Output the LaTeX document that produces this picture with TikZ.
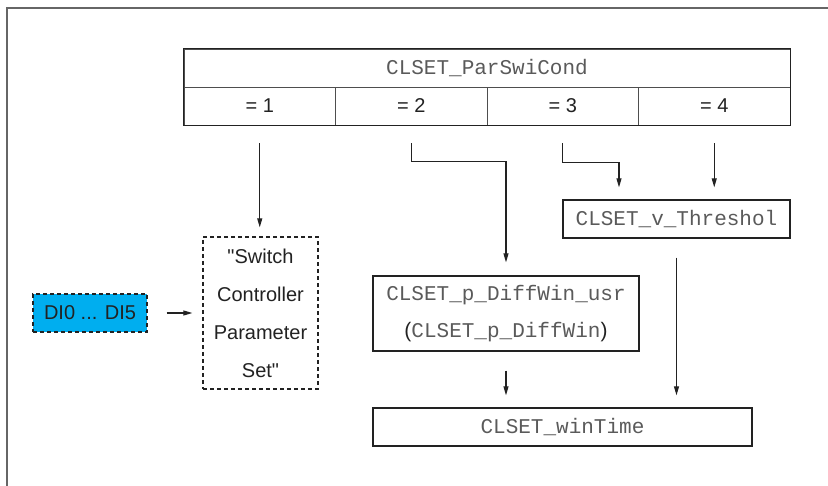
\documentclass[tikz,border=0pt]{standalone}
\usepackage{fontspec}
\setmainfont{Liberation Sans}
\newfontfamily\monof{Liberation Mono}
\usetikzlibrary{arrows.meta}
\definecolor{diblue}{RGB}{0,174,239}
\definecolor{ink}{HTML}{222222}
\definecolor{monogray}{HTML}{5a5a5a}
\begin{document}
\begin{tikzpicture}[x=1pt,y=-1pt,
  sansf/.style={font=\fontsize{20}{38}\selectfont, text=ink},
  monot/.style={font=\fontsize{21}{37}\monof, text=monogray},
  cell/.style={draw=ink!80, line width=0.8pt, inner sep=0pt, minimum height=38pt},
  pbox/.style={draw=ink, line width=1.3pt, inner sep=0pt, align=center},
  dbox/.style={draw=ink, line width=1.3pt, dash pattern=on 4pt off 3pt, inner sep=0pt, align=center},
  arr/.style={draw=ink, line width=1.1pt, -{Triangle[length=9pt,width=5pt]}}]
\useasboundingbox (0,0) rectangle (828,486);
% frame
\draw[draw=gray!80!black, line width=1.3pt] (7,486) -- (7,8) -- (828,8);
% table
\node[cell, monot, minimum width=606pt] (title) at (487,68) {CLSET\_ParSwiCond};
\node[cell, sansf, minimum width=151.5pt] (c1) at (259.75,106) {= 1};
\node[cell, sansf, minimum width=151.5pt] (c2) at (411.25,106) {= 2};
\node[cell, sansf, minimum width=151.5pt] (c3) at (562.75,106) {= 3};
\node[cell, sansf, minimum width=151.5pt] (c4) at (714.25,106) {= 4};
\draw[draw=ink, line width=1.5pt] (title.north west) rectangle (c4.south east);
% boxes
\node[dbox, sansf, minimum width=115pt, minimum height=152pt] (sw) at (260.5,313)
  {\textquotedbl Switch\\Controller\\Parameter\\Set\textquotedbl};
\node[dbox, sansf, fill=diblue, minimum width=114pt, minimum height=38pt] (di) at (90,313) {DI0 ... DI5};
\node[pbox, monot, minimum width=266pt, minimum height=75pt] (dw) at (506,313.5)
  {CLSET\_p\_DiffWin\_usr\\{\fontsize{21}{37}\rmfamily\color{ink}(}CLSET\_p\_DiffWin{\fontsize{21}{37}\rmfamily\color{ink})}};
\node[pbox, monot, minimum width=227pt, minimum height=38pt] (th) at (676.5,219) {CLSET\_v\_Threshol};
\node[pbox, monot, minimum width=379pt, minimum height=38pt] (wt) at (562.5,427) {CLSET\_winTime};
% connectors
\draw[arr, shorten <=18pt, shorten >=9pt] (c1.south) -- (c1.south |- sw.north);
\draw[arr] ([yshift=-18pt]c2.south) -- ++(0,18) -| ([yshift=13pt]dw.north);
\draw[arr] ([yshift=-18pt]c3.south) -- ++(0,19) -| ([xshift=-57.5pt,yshift=12pt]th.north);
\draw[arr, shorten <=18pt, shorten >=12pt] (c4.south) -- (c4.south |- th.north);
\draw[arr, shorten <=19pt, shorten >=12pt] (th.south) -- (th.south |- wt.north);
\draw[arr, shorten <=19pt, shorten >=12pt] (dw.south) -- (dw.south |- wt.north);
\draw[arr, shorten <=19pt, shorten >=10pt] (di.east) -- (di.east -| sw.west);
\end{tikzpicture}
\end{document}
